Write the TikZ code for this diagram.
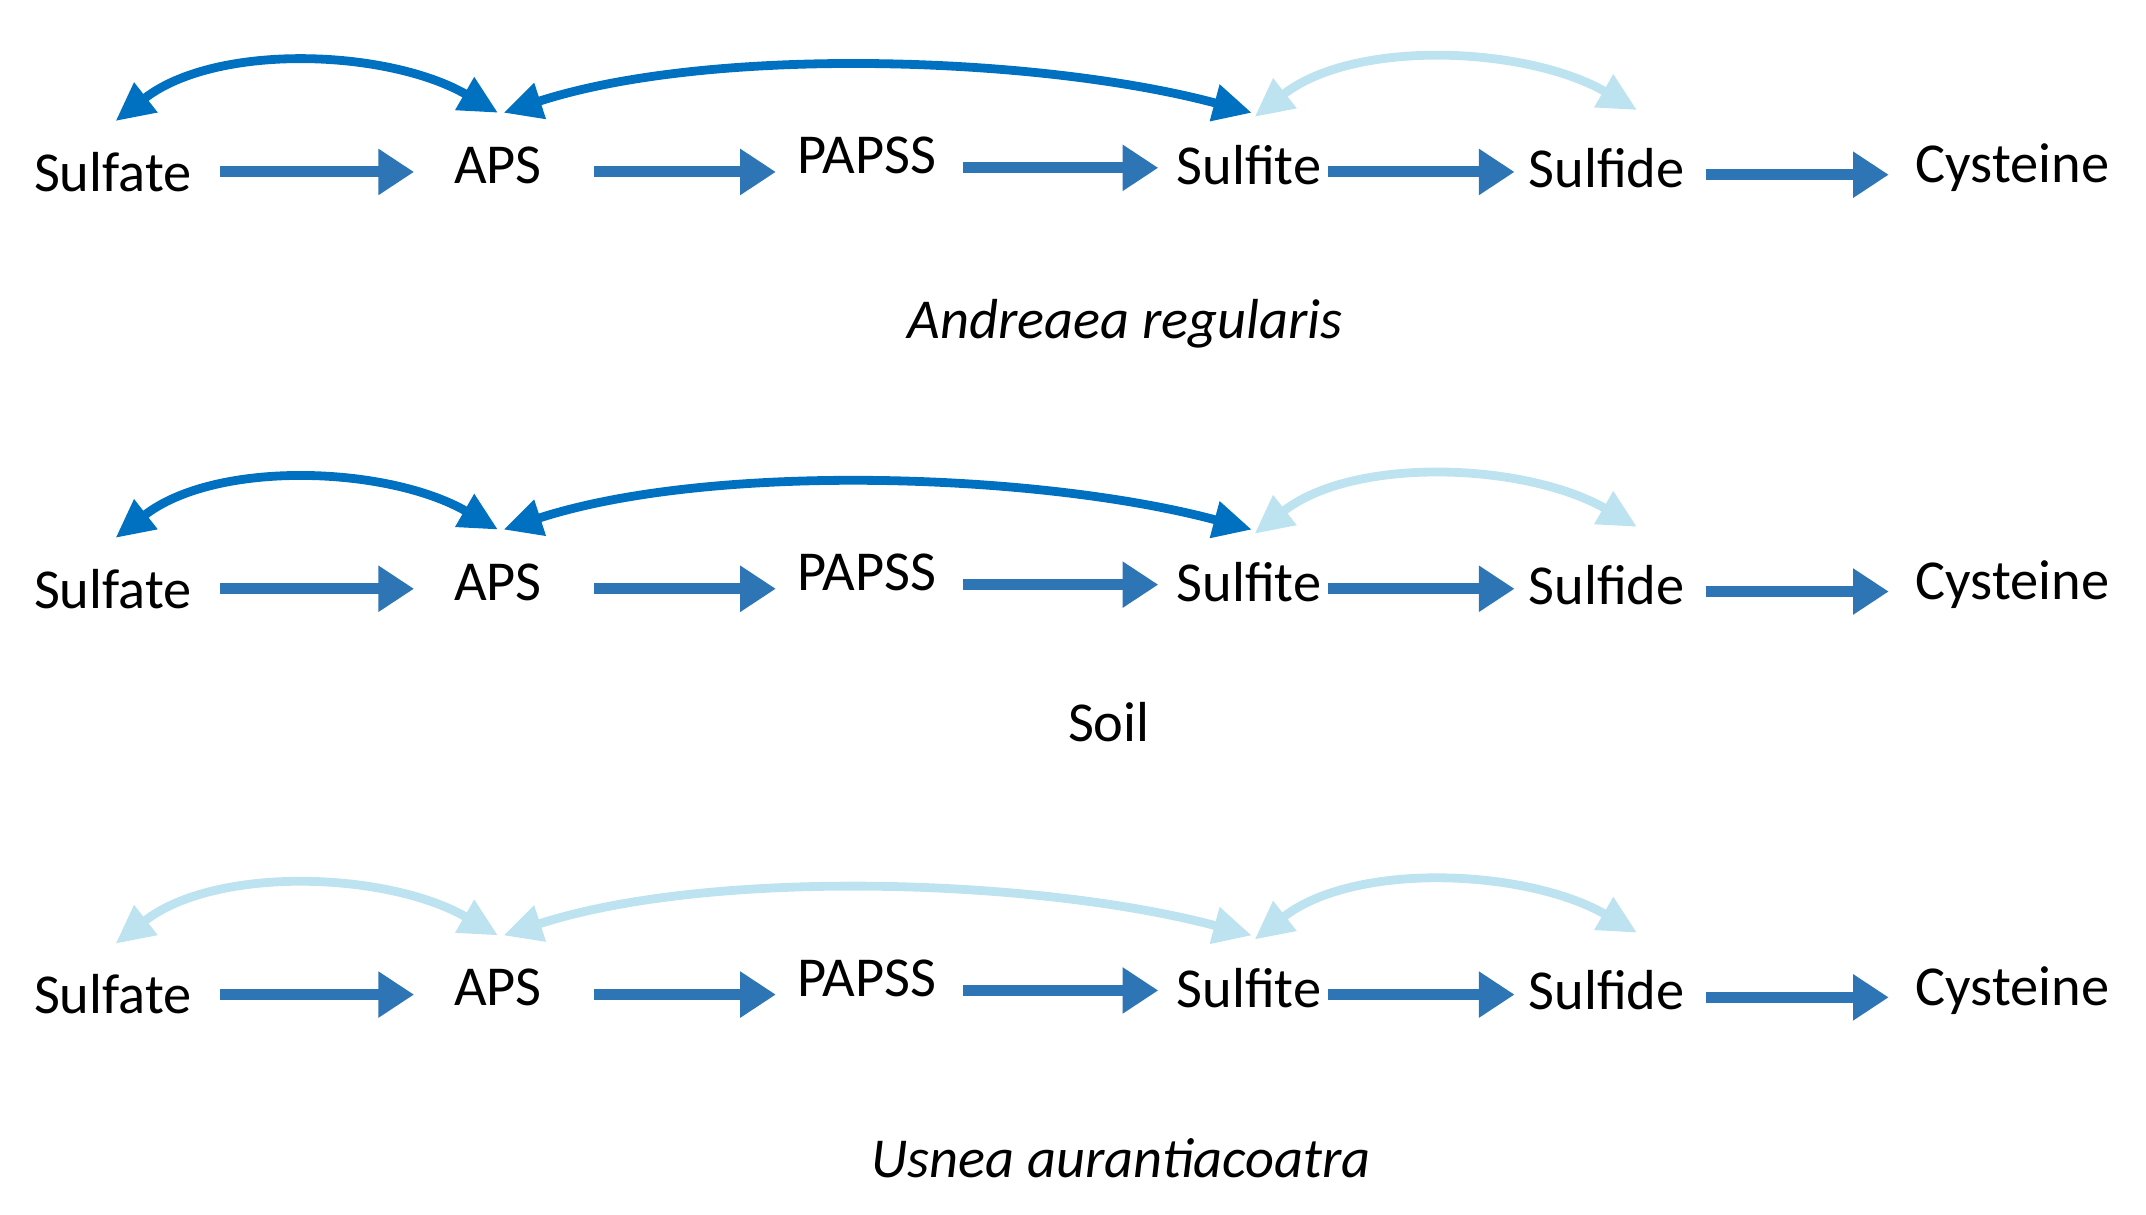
\documentclass[tikz,border=0pt]{standalone}
\usepackage{fontspec}
\setmainfont{Carlito}
\usetikzlibrary{arrows.meta}
\begin{document}
\begin{tikzpicture}[x=0.5pt,y=0.5pt,
  lbl/.style={font=\fontsize{20.5}{24}\selectfont, inner sep=0pt},
  flow/.style={line width=4pt, draw={rgb,255:red,46;green,117;blue,182}, -{Triangle[length=13pt,width=16pt]}},
  dark/.style={line width=3.2pt, draw={rgb,255:red,0;green,112;blue,192}, {Triangle[length=14pt,width=13pt]}-{Triangle[length=14pt,width=13pt]}},
  light/.style={line width=3.2pt, draw={rgb,255:red,189;green,227;blue,240}, {Triangle[length=14pt,width=13pt]}-{Triangle[length=14pt,width=13pt]}}]
\useasboundingbox (0,0) rectangle (1560,-883);
\foreach \r/\dy/\ca/\cb in {1/0/dark/dark,2/303/dark/dark,3/598/light/light}{
  \begin{scope}[yshift=-\dy*0.5pt]
  \node[lbl] (su\r) at (82,-125) {Sulfate};
  \node[lbl] (ap\r) at (362,-120) {APS};
  \node[lbl] (pa\r) at (630,-113) {PAPSS};
  \node[lbl] (sf\r) at (908,-120) {Sulfite};
  \node[lbl] (sd\r) at (1168,-122) {Sulfide};
  \node[lbl] (cy\r) at (1463,-122) {Cysteine};
  \coordinate (a\r) at (160,-125); \coordinate (b\r) at (301,-125);
  \coordinate (c\r) at (432,-125); \coordinate (d\r) at (564,-125);
  \coordinate (e\r) at (700,-122); \coordinate (f\r) at (842,-122);
  \coordinate (g\r) at (965,-125); \coordinate (h\r) at (1101,-125);
  \coordinate (i\r) at (1240,-127); \coordinate (j\r) at (1373,-127);
  \draw[flow] (a\r) -- (b\r);
  \draw[flow] (c\r) -- (d\r);
  \draw[flow] (e\r) -- (f\r);
  \draw[flow] (g\r) -- (h\r);
  \draw[flow] (i\r) -- (j\r);
  \coordinate (p\r) at (84,-88); \coordinate (q\r) at (362,-82);
  \coordinate (r\r) at (366,-82); \coordinate (s\r) at (910,-82);
  \coordinate (t\r) at (912,-85); \coordinate (u\r) at (1190,-80);
  \draw[\ca] (p\r) to[out=38,in=150,looseness=0.85] (q\r);
  \draw[\cb] (r\r) to[out=18,in=165,looseness=0.75] (s\r);
  \draw[light] (t\r) to[out=38,in=150,looseness=0.85] (u\r);
  \end{scope}
}
\node[lbl] (l1) at (818,-235) {\itshape Andreaea regularis};
\node[lbl] (l2) at (806,-525) {Soil};
\node[lbl] (l3) at (815,-842) {\itshape Usnea aurantiacoatra};
\end{tikzpicture}
\end{document}
